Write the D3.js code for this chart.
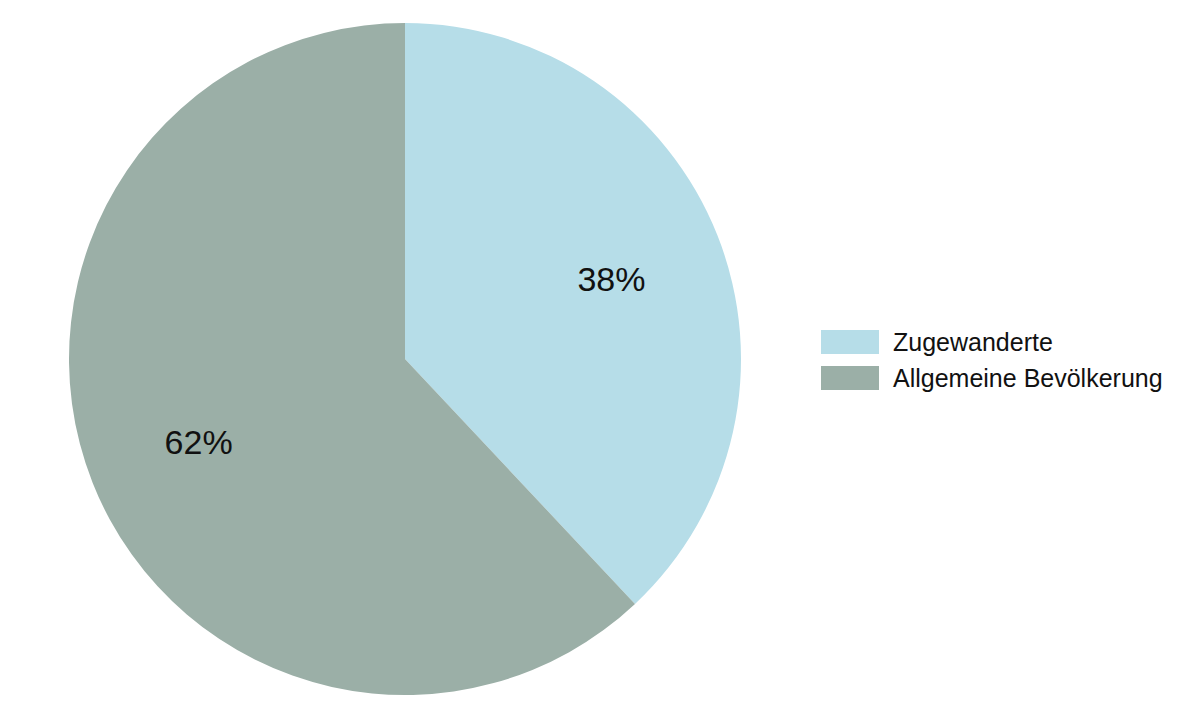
<!DOCTYPE html>
<html>
<head>
<meta charset="utf-8">
<script src="https://cdn.jsdelivr.net/npm/d3@7"></script>
<style>
  body { margin: 0; background: #fff; }
  text { font-family: "Liberation Sans", Arial, sans-serif; }
</style>
</head>
<body>
<div id="chart"></div>
<script>
// data
var categories = ['Zugewanderte', 'Allgemeine Bevölkerung'];
var values = [38, 62];
var colors = ['#b6dde8', '#9bafa7'];

var chart_width = 1200;
var chart_height = 720;
var cx = 405, cy = 359, radius = 336;

var svg = d3.select('#chart')
  .append('svg')
  .attr('width', chart_width)
  .attr('height', chart_height);

var dataset = categories.map((c, i) => ({ name: c, value: values[i], color: colors[i] }));

var pie = d3.pie()
  .sort(null)
  .value((d) => d.value);

var arc = d3.arc()
  .innerRadius(0)
  .outerRadius(radius);

// labels sit about two thirds out from the centre
var label_arc = d3.arc()
  .innerRadius(222)
  .outerRadius(222);

var g = svg.append('g')
  .attr('transform', 'translate(' + cx + ',' + cy + ')');

var arcs = pie(dataset);

g.selectAll('path')
  .data(arcs)
  .enter()
  .append('path')
  .attr('d', arc)
  .attr('fill', (d) => d.data.color);

// percentage labels
g.selectAll('text')
  .data(arcs)
  .enter()
  .append('text')
  .text((d) => d.data.value + '%')
  .attr('transform', (d) => 'translate(' + label_arc.centroid(d) + ')')
  .attr('text-anchor', 'middle')
  .attr('dy', '0.4em')
  .attr('font-size', 34)
  .attr('fill', '#111');

// legend
var legend = svg.append('g')
  .attr('transform', 'translate(821,330)');

var items = legend.selectAll('g')
  .data(dataset)
  .enter()
  .append('g')
  .attr('transform', (d, i) => 'translate(0,' + i * 36 + ')');

items.append('rect')
  .attr('width', 58)
  .attr('height', 24)
  .attr('fill', (d) => d.color);

items.append('text')
  .text((d) => d.name)
  .attr('x', 72)
  .attr('y', 12)
  .attr('dy', '0.35em')
  .attr('font-size', 25)
  .attr('fill', '#111');
</script>
</body>
</html>
